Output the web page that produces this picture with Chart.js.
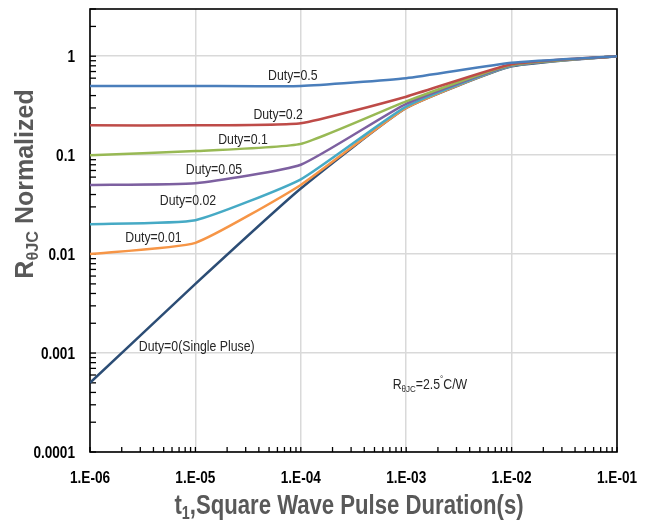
<!DOCTYPE html>
<html>
<head>
<meta charset="utf-8">
<script src="https://cdn.jsdelivr.net/npm/chart.js"></script>
<style>
  html, body { margin: 0; padding: 0; background: #fff; }
  #wrap { width: 651px; height: 522px; position: relative; }
</style>
</head>
<body>
<div id="wrap"><canvas id="myChart"></canvas></div>
<script>
// pulse durations (s) and normalized R(theta JC) per duty cycle
const durations = [1e-6, 1e-5, 1e-4, 1e-3, 1e-2, 1e-1];
const duty05 = [0.5, 0.5, 0.5, 0.6, 0.86, 1];
const duty02 = [0.2, 0.2, 0.21, 0.39, 0.83, 1];
const duty01 = [0.1, 0.11, 0.13, 0.35, 0.82, 1];
const duty005 = [0.05, 0.052, 0.08, 0.33, 0.81, 1];
const duty002 = [0.02, 0.022, 0.057, 0.31, 0.8, 1];
const duty001 = [0.01, 0.013, 0.05, 0.3, 0.8, 1];
const singlePulse = [0.0005, 0.005, 0.046, 0.3, 0.79, 1];

const xTickLabels = ['1.E-06', '1.E-05', '1.E-04', '1.E-03', '1.E-02', '1.E-01'];
const yTickLabels = ['0.0001', '0.001', '0.01', '0.1', '1'];

// curve labels, placed in data coordinates
const noteLabels = ['Duty=0.5', 'Duty=0.2', 'Duty=0.1', 'Duty=0.05', 'Duty=0.02', 'Duty=0.01', 'Duty=0(Single Pluse)'];
const noteX = [8.4e-5, 6.1e-5, 2.83e-5, 1.5e-5, 8.5e-6, 4.0e-6, 1.03e-5];
const noteY = [0.66, 0.266, 0.148, 0.074, 0.036, 0.0152, 0.00118];
const rthX = 1.68e-3, rthY = 0.00049;

const SANS = "'Liberation Sans', Arial, sans-serif";
const SQUEEZE = 0.82; // the original text is horizontally narrow

const isMajor = v => Math.abs(Math.log10(v) - Math.round(Math.log10(v))) < 1e-6;

function logTicks(lo, hi, top) {
    const out = [];
    for (let e = lo; e < hi; e++) {
        for (let k = 1; k <= 9; k++) out.push(Number((k * Math.pow(10, e)).toPrecision(3)));
    }
    top.forEach(v => out.push(v));
    return out.map(v => ({ value: v }));
}

// draws text made of plain / sub / sup pieces, squeezed horizontally by sx
function richText(ctx, parts, x, y, size, weight, align, sx) {
    const fontFor = p => weight + ' ' + (p.sub || p.sup ? size * 0.65 : size) + 'px ' + SANS;
    let w = 0;
    parts.forEach(p => { ctx.font = fontFor(p); w += ctx.measureText(p.t).width; });
    ctx.save();
    ctx.translate(x, y);
    ctx.scale(sx, 1);
    let cx = align === 'center' ? -w / 2 : (align === 'right' ? -w : 0);
    ctx.textAlign = 'left';
    ctx.textBaseline = 'alphabetic';
    parts.forEach(p => {
        ctx.font = fontFor(p);
        let dy = p.sub ? size * 0.2 : (p.sup ? -size * 0.45 : 0);
        ctx.fillText(p.t, cx, dy);
        cx += ctx.measureText(p.t).width;
    });
    ctx.restore();
}

const framePlugin = {
    id: 'frame',
    beforeDatasetsDraw(chart) {
        const { ctx, chartArea: a, scales } = chart;
        ctx.save();
        ctx.strokeStyle = '#000';
        ctx.lineWidth = 1.3;
        // inside tick marks
        scales.x.ticks.forEach(t => {
            const px = scales.x.getPixelForValue(t.value);
            ctx.beginPath(); ctx.moveTo(px, a.bottom); ctx.lineTo(px, a.bottom - 5); ctx.stroke();
        });
        scales.y.ticks.forEach(t => {
            const py = scales.y.getPixelForValue(t.value);
            ctx.beginPath(); ctx.moveTo(a.left, py); ctx.lineTo(a.left + 6, py); ctx.stroke();
        });
        ctx.lineWidth = 1.6;
        ctx.strokeRect(a.left, a.top, a.right - a.left, a.bottom - a.top);
        ctx.restore();
    },
    afterDraw(chart) {
        const { ctx, chartArea: a, scales } = chart;
        ctx.save();

        // tick labels
        ctx.fillStyle = '#000';
        scales.x.ticks.filter(t => isMajor(t.value)).forEach(t => {
            const lbl = xTickLabels[Math.round(Math.log10(t.value)) + 6];
            richText(ctx, [{ t: lbl }], scales.x.getPixelForValue(t.value), a.bottom + 31, 16, 'bold', 'center', 0.85);
        });
        scales.y.ticks.filter(t => isMajor(t.value)).forEach(t => {
            const lbl = yTickLabels[Math.round(Math.log10(t.value)) + 4];
            richText(ctx, [{ t: lbl }], a.left - 15, scales.y.getPixelForValue(t.value) + 6, 16, 'bold', 'right', 0.85);
        });

        // curve notes
        ctx.fillStyle = '#262626';
        noteLabels.forEach((txt, i) => {
            richText(ctx, [{ t: txt }], scales.x.getPixelForValue(noteX[i]), scales.y.getPixelForValue(noteY[i]) + 5.5,
                15, '', 'center', SQUEEZE);
        });
        richText(ctx, [{ t: 'R' }, { t: '\u03b8JC', sub: true }, { t: '=2.5' }, { t: '\u00b0', sup: true }, { t: 'C/W' }],
            scales.x.getPixelForValue(rthX), scales.y.getPixelForValue(rthY) + 5.5, 15, '', 'center', SQUEEZE);

        // axis titles
        ctx.fillStyle = '#595959';
        richText(ctx, [{ t: 't' }, { t: '1', sub: true }, { t: ',Square Wave Pulse Duration(s)' }],
            349, 514, 27, 'bold', 'center', SQUEEZE);
        ctx.translate(33, 184);
        ctx.rotate(-Math.PI / 2);
        richText(ctx, [{ t: 'R' }, { t: '\u03b8JC', sub: true }, { t: ' Normalized' }], 0, 0, 25, 'bold', 'center', 1);
        ctx.restore();
    }
};

const ctx = document.querySelector('#myChart').getContext('2d');

const series = [
    { label: 'Duty=0.5', data: duty05, color: '#4a7ebb' },
    { label: 'Duty=0.2', data: duty02, color: '#be4b48' },
    { label: 'Duty=0.1', data: duty01, color: '#98b954' },
    { label: 'Duty=0.05', data: duty005, color: '#7d60a0' },
    { label: 'Duty=0.02', data: duty002, color: '#46aac5' },
    { label: 'Duty=0.01', data: duty001, color: '#f69546' },
    { label: 'Duty=0', data: singlePulse, color: '#2c4d75' }
];

const myChart = new Chart(ctx, {
    type: 'line',
    data: {
        labels: durations,
        datasets: series.map(s => ({
            label: s.label,
            data: s.data.map((v, i) => ({ x: durations[i], y: v })),
            borderColor: s.color,
            backgroundColor: s.color,
            borderWidth: 2.5,
            pointRadius: 0,
            tension: 0.15,
            fill: false
        }))
    },
    options: {
        responsive: true,
        maintainAspectRatio: false,
        animation: false,
        layout: { padding: { top: 9, right: 34, left: 0, bottom: 0 } },
        plugins: { legend: { display: false }, tooltip: { enabled: false } },
        scales: {
            x: {
                type: 'logarithmic',
                min: 1e-6,
                max: 1e-1,
                afterFit: s => { s.height = 70; },
                afterBuildTicks: s => { s.ticks = logTicks(-6, -1, [1e-1]); },
                grid: {
                    drawTicks: false,
                    lineWidth: 1.5,
                    color: c => (c.tick && isMajor(c.tick.value)) ? '#d9d9d9' : 'rgba(0,0,0,0)'
                },
                border: { display: false },
                ticks: { display: false, autoSkip: false }
            },
            y: {
                type: 'logarithmic',
                min: 1e-4,
                max: 3,
                afterFit: s => { s.width = 90; },
                afterBuildTicks: s => { s.ticks = logTicks(-4, 0, [1, 2, 3]); },
                grid: {
                    drawTicks: false,
                    lineWidth: 1.5,
                    color: c => (c.tick && isMajor(c.tick.value)) ? '#d9d9d9' : 'rgba(0,0,0,0)'
                },
                border: { display: false },
                ticks: { display: false, autoSkip: false }
            }
        }
    },
    plugins: [framePlugin]
});
</script>
</body>
</html>
